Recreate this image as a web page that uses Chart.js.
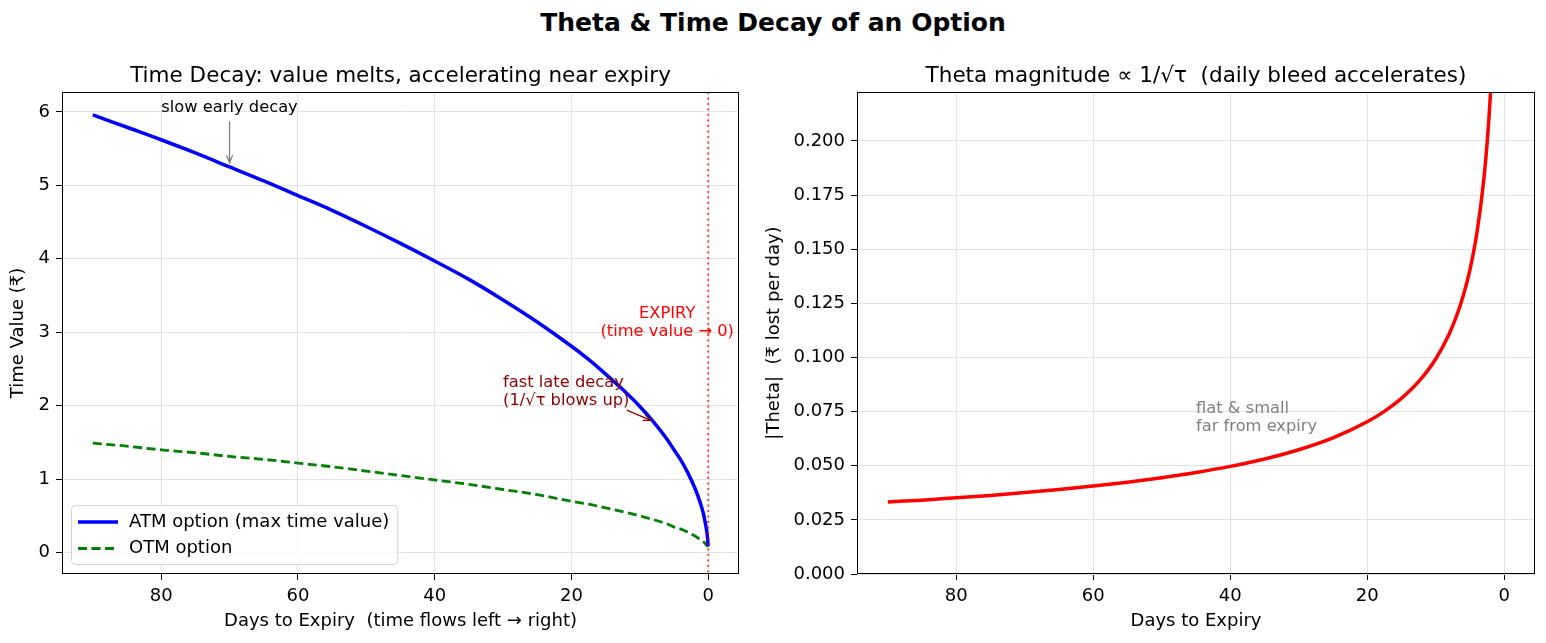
<!DOCTYPE html>
<html>
<head>
<meta charset="utf-8">
<script src="https://cdn.jsdelivr.net/npm/chart.js@4.4.0/dist/chart.umd.min.js"></script>
<style>
body{margin:0;background:#fff;width:1546px;height:643px;overflow:hidden;position:relative;font-family:"DejaVu Sans",sans-serif}
#sup{position:absolute;left:0;top:8px;width:1546px;text-align:center;font-weight:bold;font-size:25px;line-height:30px;color:#000}
#w1{position:absolute;left:0;top:0;width:760px;height:643px}
#w2{position:absolute;left:760px;top:0;width:786px;height:643px}
</style>
</head>
<body>
<div id="sup">Theta &amp; Time Decay of an Option</div>
<div id="w1"><canvas id="c1"></canvas></div>
<div id="w2"><canvas id="c2"></canvas></div>
<script>
const FONT = '"DejaVu Sans", sans-serif';

// left panel: time value vs days to expiry
const days = [90,85,80,75,70,65,60,55,50,45,40,35,30,25,20,17.5,15,12.5,10,8,6,5,4,3,2,1.5,1,0.7,0.5,0.3,0.2,0.1,0.05,0.02];
const atmValue = [5.96,5.79,5.62,5.44,5.25,5.06,4.86,4.66,4.44,4.21,3.97,3.72,3.44,3.14,2.81,2.63,2.43,2.22,1.99,1.78,1.54,1.40,1.26,1.09,0.89,0.77,0.63,0.53,0.44,0.34,0.28,0.20,0.14,0.09];
const otmValue = [1.49,1.45,1.40,1.36,1.31,1.27,1.22,1.17,1.11,1.05,0.99,0.93,0.86,0.79,0.70,0.66,0.61,0.56,0.50,0.45,0.39,0.35,0.32,0.28,0.23,0.20,0.17,0.15,0.13,0.11,0.10,0.09,0.09,0.08];

// right panel: |theta| per day
const thetaDays = [90,85,80,75,70,65,60,55,50,45,40,35,30,25,20,17.5,15,12.5,10,8,7,6,5,4,3,2.5,2,1.5,1.2];
const thetaValue = [0.0333,0.0341,0.0352,0.0363,0.0376,0.0390,0.0406,0.0424,0.0445,0.0469,0.0497,0.0531,0.0574,0.0629,0.0703,0.0751,0.0811,0.0888,0.0993,0.1111,0.1188,0.1283,0.1405,0.1571,0.1814,0.1987,0.2221,0.2565,0.2867];

const dayTicks = [0,20,40,60,80];
const valueTicks = [0,1,2,3,4,5,6];
const thetaTicks = [0,0.025,0.05,0.075,0.1,0.125,0.15,0.175,0.2];

const pts = (xs, ys) => xs.map((v, i) => ({x: v, y: ys[i]}));

function arrow(ctx, x0, y0, x1, y1, color) {
  ctx.strokeStyle = color;
  ctx.lineWidth = 1.3;
  ctx.setLineDash([]);
  ctx.beginPath(); ctx.moveTo(x0, y0); ctx.lineTo(x1, y1); ctx.stroke();
  const ang = Math.atan2(y1 - y0, x1 - x0), L = 8, w = 0.4;
  ctx.beginPath();
  ctx.moveTo(x1 - L * Math.cos(ang - w), y1 - L * Math.sin(ang - w));
  ctx.lineTo(x1, y1);
  ctx.lineTo(x1 - L * Math.cos(ang + w), y1 - L * Math.sin(ang + w));
  ctx.stroke();
}

const decor = {
  id: 'decor',
  afterDraw(chart, args, o) {
    const {ctx, chartArea: a, scales: {x, y}} = chart;
    ctx.save();
    (o.vlines || []).forEach(v => {
      const px = x.getPixelForValue(v.x);
      ctx.strokeStyle = v.color; ctx.lineWidth = 2; ctx.setLineDash([2, 3.5]);
      ctx.beginPath(); ctx.moveTo(px, a.top); ctx.lineTo(px, a.bottom); ctx.stroke();
    });
    ctx.setLineDash([]);
    ctx.strokeStyle = '#000'; ctx.lineWidth = 1;
    ctx.strokeRect(Math.round(a.left) + 0.5, Math.round(a.top) + 0.5, Math.round(a.width) - 1, Math.round(a.height) - 1);

    ctx.fillStyle = '#000';
    ctx.font = '21.5px ' + FONT; ctx.textAlign = 'center'; ctx.textBaseline = 'middle';
    ctx.fillText(o.title, (a.left + a.right) / 2, a.top - 16);

    (o.notes || []).forEach(n => {
      ctx.font = n.size + 'px ' + FONT;
      ctx.fillStyle = n.color; ctx.textAlign = n.align; ctx.textBaseline = 'bottom';
      const px = x.getPixelForValue(n.x), py = y.getPixelForValue(n.y);
      n.lines.forEach((t, i) => ctx.fillText(t, px, py - (n.lines.length - 1 - i) * 18));
      if (n.arrow) {
        const [x0, y0, x1, y1] = n.arrow;
        arrow(ctx, x.getPixelForValue(x0), y.getPixelForValue(y0), x.getPixelForValue(x1), y.getPixelForValue(y1), n.arrowColor);
      }
    });

    if (o.legend) {
      ctx.font = '18px ' + FONT;
      const ds = chart.data.datasets;
      const tw = Math.max(...ds.map(d => ctx.measureText(d.label).width));
      const bx = a.left + 9, bh = 59, by = a.bottom - 10 - bh, bw = 58 + tw + 8;
      ctx.fillStyle = 'rgba(255,255,255,0.8)'; ctx.strokeStyle = '#d3d3d3'; ctx.lineWidth = 1;
      ctx.beginPath(); ctx.roundRect(bx + 0.5, by + 0.5, bw, bh, 4); ctx.fill(); ctx.stroke();
      ds.forEach((d, i) => {
        const cy = by + 17 + i * 26.5;
        ctx.strokeStyle = d.borderColor; ctx.lineWidth = d.borderWidth;
        ctx.setLineDash(d.borderDash || []);
        ctx.beginPath(); ctx.moveTo(bx + 7, cy); ctx.lineTo(bx + 47, cy); ctx.stroke();
        ctx.setLineDash([]);
        ctx.fillStyle = '#000'; ctx.textAlign = 'left'; ctx.textBaseline = 'middle';
        ctx.fillText(d.label, bx + 58, cy);
      });
    }
    ctx.restore();
  }
};

function xAxis(label) {
  return {
    type: 'linear', reverse: true, min: -4.5, max: 94.5,
    afterBuildTicks: s => { s.ticks = dayTicks.map(v => ({value: v})); },
    afterFit: s => { s.height = 69; },
    ticks: {color: '#000', font: {family: FONT, size: 18}, padding: 6, maxRotation: 0},
    grid: {color: '#e3e3e3', tickColor: '#000', tickLength: 6, lineWidth: 1},
    border: {display: false},
    title: {display: true, text: label, color: '#000', font: {family: FONT, size: 18}, padding: {top: 0, bottom: 11}}
  };
}

new Chart(document.getElementById('c1'), {
  type: 'line',
  data: {
    datasets: [
      {label: 'ATM option (max time value)', data: pts(days, atmValue), borderColor: '#0000ff', borderWidth: 3.5, pointRadius: 0, cubicInterpolationMode: 'monotone', clip: 0},
      {label: 'OTM option', data: pts(days, otmValue), borderColor: '#008000', borderWidth: 2.8, borderDash: [9, 4.5], pointRadius: 0, cubicInterpolationMode: 'monotone', clip: 0}
    ]
  },
  options: {
    responsive: true, maintainAspectRatio: false, animation: false, devicePixelRatio: 1,
    layout: {padding: {left: 0, right: 21, top: 92, bottom: 0}},
    scales: {
      x: xAxis('Days to Expiry  (time flows left \u2192 right)'),
      y: {
        min: -0.29, max: 6.27,
        afterBuildTicks: s => { s.ticks = valueTicks.map(v => ({value: v})); },
        afterFit: s => { s.width = 62; },
        ticks: {color: '#000', font: {family: FONT, size: 18}, padding: 6},
        grid: {color: '#e3e3e3', tickColor: '#000', tickLength: 6, lineWidth: 1},
        border: {display: false},
        title: {display: true, text: 'Time Value (\u20b9)', color: '#000', font: {family: FONT, size: 18}, padding: {top: 8, bottom: 0}}
      }
    },
    plugins: {
      legend: {display: false}, tooltip: {enabled: false},
      decor: {
        title: 'Time Decay: value melts, accelerating near expiry',
        legend: true,
        vlines: [{x: 0, color: 'rgba(255,0,0,0.7)'}],
        notes: [
          {x: 70, y: 5.95, lines: ['slow early decay'], align: 'center', size: 16.3, color: '#000', arrow: [70, 5.87, 70, 5.31], arrowColor: '#808080'},
          {x: 30, y: 1.95, lines: ['fast late decay', '(1/\u221a\u03c4 blows up)'], align: 'left', size: 16.3, color: '#8b0000', arrow: [11.9, 1.94, 8.4, 1.8], arrowColor: '#8b0000'},
          {x: 6, y: 2.9, lines: ['EXPIRY', '(time value \u2192 0)'], align: 'center', size: 16.3, color: '#ff0000'}
        ]
      }
    }
  },
  plugins: [decor]
});

new Chart(document.getElementById('c2'), {
  type: 'line',
  data: {
    datasets: [
      {label: '|Theta|', data: pts(thetaDays, thetaValue), borderColor: '#ff0000', borderWidth: 3.5, pointRadius: 0, cubicInterpolationMode: 'monotone', clip: 0}
    ]
  },
  options: {
    responsive: true, maintainAspectRatio: false, animation: false, devicePixelRatio: 1,
    layout: {padding: {left: 0, right: 11, top: 92, bottom: 0}},
    scales: {
      x: xAxis('Days to Expiry'),
      y: {
        min: 0, max: 0.2226,
        afterBuildTicks: s => { s.ticks = thetaTicks.map(v => ({value: v})); },
        afterFit: s => { s.width = 97; },
        ticks: {color: '#000', font: {family: FONT, size: 18}, padding: 6, callback: v => v.toFixed(3)},
        grid: {color: '#e3e3e3', tickColor: '#000', tickLength: 6, lineWidth: 1},
        border: {display: false},
        title: {display: true, text: '|Theta|  (\u20b9 lost per day)', color: '#000', font: {family: FONT, size: 18}, padding: {top: 4, bottom: 0}}
      }
    },
    plugins: {
      legend: {display: false}, tooltip: {enabled: false},
      decor: {
        title: 'Theta magnitude \u221d 1/\u221a\u03c4  (daily bleed accelerates)',
        notes: [
          {x: 45, y: 0.064, lines: ['flat & small', 'far from expiry'], align: 'left', size: 16.3, color: '#808080'}
        ]
      }
    }
  },
  plugins: [decor]
});
</script>
</body>
</html>
